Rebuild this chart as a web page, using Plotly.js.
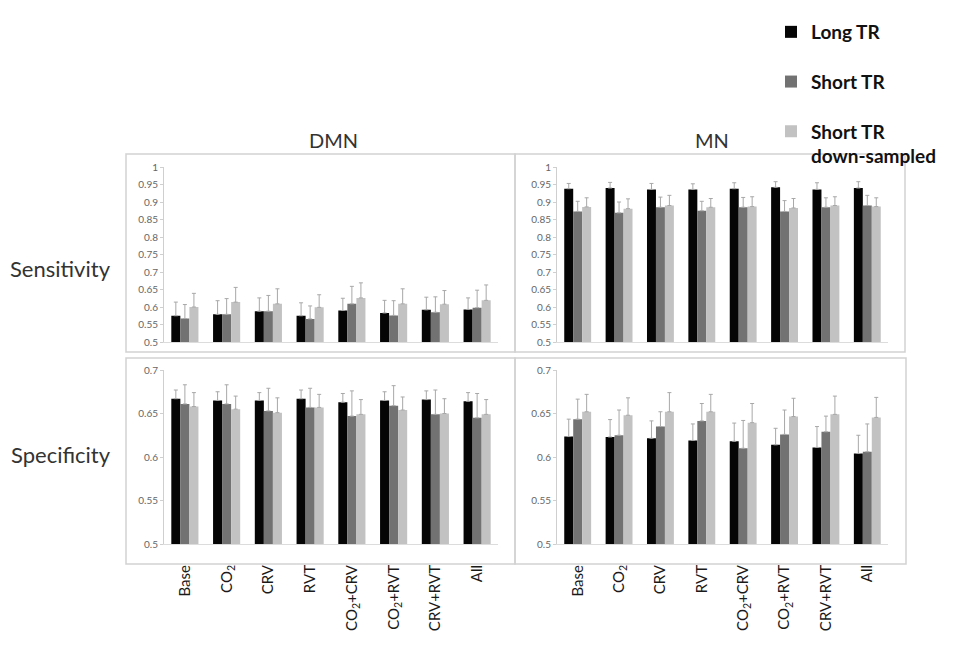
<!DOCTYPE html>
<html>
<head>
<meta charset="utf-8">
<script src="https://cdn.plot.ly/plotly-3.0.1.min.js"></script>
<style>html,body{margin:0;padding:0;background:#fff;}#chart{width:964px;height:670px;}</style>
</head>
<body>
<div id="chart"></div>
<script>
// ---- data ----
var categories = ["Base","CO2","CRV","RVT","CO2+CRV","CO2+RVT","CRV+RVT","All"];
var tickLabels = ["Base","CO<sub>2</sub>","CRV","RVT","CO<sub>2</sub>+CRV","CO<sub>2</sub>+RVT","CRV+RVT","All"];
var seriesNames = ["Long TR","Short TR","Short TR<br>down-sampled"];

// DMN sensitivity
var dmnSensLong  = [0.575,0.579,0.588,0.575,0.590,0.583,0.592,0.593];
var dmnSensShort = [0.567,0.579,0.588,0.566,0.609,0.576,0.585,0.598];
var dmnSensDown  = [0.600,0.614,0.609,0.599,0.626,0.609,0.608,0.619];
var dmnSensLongErr  = [0.039,0.039,0.038,0.037,0.035,0.036,0.036,0.033];
var dmnSensShortErr = [0.040,0.045,0.045,0.037,0.050,0.042,0.044,0.050];
var dmnSensDownErr  = [0.039,0.042,0.043,0.036,0.043,0.043,0.039,0.044];

// MN sensitivity
var mnSensLong  = [0.938,0.940,0.936,0.936,0.938,0.942,0.936,0.940];
var mnSensShort = [0.873,0.869,0.885,0.875,0.885,0.873,0.885,0.890];
var mnSensDown  = [0.886,0.881,0.890,0.885,0.887,0.883,0.890,0.887];
var mnSensLongErr  = [0.015,0.016,0.017,0.016,0.017,0.016,0.019,0.018];
var mnSensShortErr = [0.029,0.031,0.029,0.027,0.028,0.031,0.027,0.029];
var mnSensDownErr  = [0.026,0.028,0.029,0.025,0.028,0.027,0.025,0.025];

// DMN specificity
var dmnSpecLong  = [0.667,0.665,0.665,0.667,0.663,0.665,0.666,0.664];
var dmnSpecShort = [0.661,0.661,0.653,0.657,0.647,0.659,0.649,0.645];
var dmnSpecDown  = [0.658,0.655,0.651,0.657,0.649,0.654,0.650,0.649];
var dmnSpecLongErr  = [0.010,0.010,0.009,0.010,0.010,0.010,0.010,0.010];
var dmnSpecShortErr = [0.022,0.022,0.026,0.022,0.029,0.023,0.028,0.028];
var dmnSpecDownErr  = [0.016,0.015,0.017,0.015,0.017,0.015,0.017,0.017];

// MN specificity
var mnSpecLong  = [0.6235,0.623,0.6215,0.619,0.618,0.614,0.611,0.604];
var mnSpecShort = [0.6435,0.625,0.635,0.6415,0.610,0.626,0.629,0.606];
var mnSpecDown  = [0.652,0.648,0.652,0.652,0.6395,0.6465,0.649,0.6455];
var mnSpecLongErr  = [0.020,0.020,0.020,0.019,0.021,0.019,0.024,0.021];
var mnSpecShortErr = [0.023,0.029,0.017,0.020,0.032,0.028,0.018,0.032];
var mnSpecDownErr  = [0.020,0.020,0.022,0.020,0.022,0.021,0.021,0.023];

// ---- build ----
var W = 964, H = 670;
var colors = ["#050505","#727272","#c2c2c2"];
var panels = [
  {xa:"x",  ya:"y",  vals:[dmnSensLong,dmnSensShort,dmnSensDown], errs:[dmnSensLongErr,dmnSensShortErr,dmnSensDownErr]},
  {xa:"x2", ya:"y2", vals:[mnSensLong,mnSensShort,mnSensDown],    errs:[mnSensLongErr,mnSensShortErr,mnSensDownErr]},
  {xa:"x3", ya:"y3", vals:[dmnSpecLong,dmnSpecShort,dmnSpecDown], errs:[dmnSpecLongErr,dmnSpecShortErr,dmnSpecDownErr]},
  {xa:"x4", ya:"y4", vals:[mnSpecLong,mnSpecShort,mnSpecDown],    errs:[mnSpecLongErr,mnSpecShortErr,mnSpecDownErr]}
];
var traces = [];
panels.forEach(function(p, pi){
  for (var s = 0; s < 3; s++) {
    traces.push({
      type:"bar", x:categories, y:p.vals[s], name:seriesNames[s],
      xaxis:p.xa, yaxis:p.ya,
      legendgroup:"g"+s, showlegend: pi===0,
      marker:{color:colors[s], line:{width:0}},
      error_y:{type:"data", symmetric:false, array:p.errs[s], arrayminus:p.errs[s].map(function(){return 0;}),
               color:"#a8a8a8", thickness:1, width:2},
      hoverinfo:"x+y"
    });
  }
});

function px(x){return x/W;}
function py(y){return 1 - y/H;}

var tickFont = {family:"Lato, 'Open Sans', sans-serif", size:10, color:"#666"};
function yax(domain, range, anchor){
  return {domain:domain, range:range, anchor:anchor, dtick:0.05, tick0:0.5,
    showgrid:false, zeroline:false, showline:true, linecolor:"#cfcfcf", linewidth:1,
    ticks:"outside", ticklen:3, tickcolor:"#cfcfcf", tickfont:tickFont, fixedrange:true};
}
function xax(domain, anchor, showLabels){
  var a = {domain:domain, anchor:anchor, type:"category", showticklabels:showLabels,
    showgrid:false, zeroline:false, showline:true, linecolor:"#dcdcdc", linewidth:1, fixedrange:true};
  if (showLabels) {
    a.tickvals = categories; a.ticktext = tickLabels;
    a.tickangle = -90; a.ticks = "outside"; a.ticklen = 14; a.tickcolor = "rgba(0,0,0,0)";
    a.tickfont = {family:"Lato, 'Open Sans', sans-serif", size:15, color:"#1a1a1a"};
  } else {
    a.ticks = "";
  }
  return a;
}
var xL = [px(164), px(498)], xR = [px(557), px(888)];
var yT = [py(342), py(167)], yB = [py(544), py(370)];

var boxLine = {color:"#d2d2d2", width:1.5};
function box(x0,y0,x1,y1){return {type:"rect", xref:"paper", yref:"paper", x0:px(x0), x1:px(x1), y0:py(y1), y1:py(y0), line:boxLine, fillcolor:"rgba(0,0,0,0)"};}

var titleFont = {family:"Lato, 'Open Sans', sans-serif", size:20, color:"#333"};
var rowFont = {family:"Lato, 'Open Sans', sans-serif", size:22, color:"#333"};
function ann(text, x, y, font){
  return {text:text, xref:"paper", yref:"paper", x:px(x), y:py(y), xanchor:"center", yanchor:"middle", showarrow:false, font:font};
}
var layout = {
  width:W, height:H, margin:{l:0,r:0,t:0,b:0},
  paper_bgcolor:"#fff", plot_bgcolor:"rgba(0,0,0,0)",
  barmode:"group", bargap:0.35, bargroupgap:0,
  showlegend:true,
  legend:{x:px(771), y:py(13), xanchor:"left", yanchor:"top", orientation:"v",
    font:{family:"Lato, 'Open Sans', sans-serif", size:19, color:"#111", weight:"bold"},
    tracegroupgap:22, valign:"top", itemwidth:30, bgcolor:"rgba(0,0,0,0)"},
  xaxis: xax(xL, "y", false),
  xaxis2:xax(xR, "y2", false),
  xaxis3:xax(xL, "y3", true),
  xaxis4:xax(xR, "y4", true),
  yaxis: yax(yT, [0.5,1], "x"),
  yaxis2:yax(yT, [0.5,1], "x2"),
  yaxis3:yax(yB, [0.5,0.7], "x3"),
  yaxis4:yax(yB, [0.5,0.7], "x4"),
  shapes:[box(126,154,515,352), box(515,154,905,352), box(126,358,515,564), box(515,358,906,564)],
  annotations:[
    ann("DMN", 333, 140, titleFont),
    ann("MN", 712, 140, titleFont),
    ann("Sensitivity", 60, 268, rowFont),
    ann("Specificity", 61, 454, rowFont)
  ]
};
Plotly.newPlot("chart", traces, layout, {displayModeBar:false, staticPlot:true});
</script>
</body>
</html>
